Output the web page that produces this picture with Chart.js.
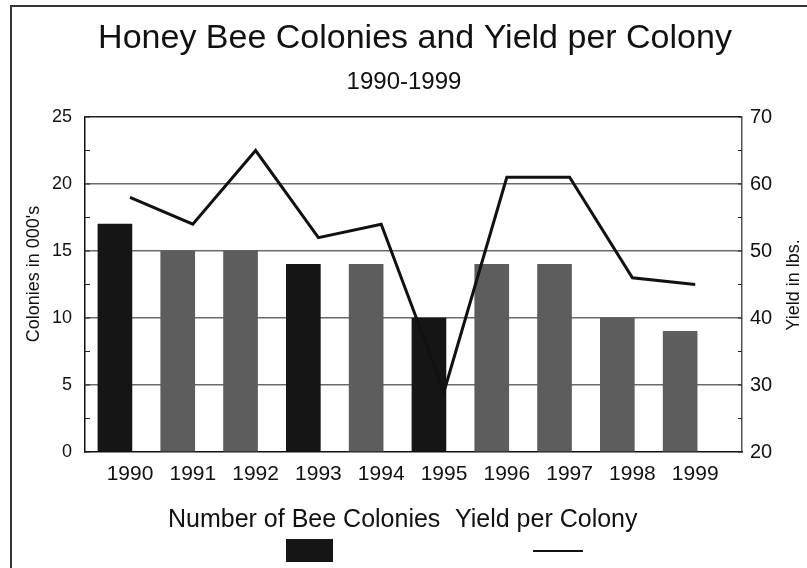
<!DOCTYPE html>
<html>
<head>
<meta charset="utf-8">
<script src="https://cdn.jsdelivr.net/npm/chart.js@4.4.1/dist/chart.umd.min.js"></script>
<style>
  html, body { margin: 0; padding: 0; background: #fff; }
  #wrap { width: 807px; height: 568px; }
</style>
</head>
<body>
<div id="wrap"><canvas id="beeChart" width="807" height="568"></canvas></div>
<script>
const years = ['1990', '1991', '1992', '1993', '1994', '1995', '1996', '1997', '1998', '1999'];
const colonies = [17, 15, 15, 14, 14, 10, 14, 14, 10, 9];
const yieldLbs = [58, 54, 65, 52, 54, 29, 61, 61, 46, 45];
const barShades = ['#151515', '#5d5d5d', '#5d5d5d', '#151515', '#5d5d5d', '#151515', '#5d5d5d', '#5d5d5d', '#5d5d5d', '#5d5d5d'];
const leftTicks = [0, 5, 10, 15, 20, 25];
const rightTicks = [20, 30, 40, 50, 60, 70];

const FONT = '"Liberation Sans", Arial, Helvetica, sans-serif';
const barShift = -0.24;

// titles, axis titles, legend and the page frame
const decorations = {
    id: 'decorations',
    afterDraw(chart) {
        const ctx = chart.ctx;
        const area = chart.chartArea;
        ctx.save();

        // frame of the scanned page
        ctx.strokeStyle = '#333';
        ctx.lineWidth = 2;
        ctx.beginPath();
        ctx.moveTo(11, 568);
        ctx.lineTo(11, 6);
        ctx.lineTo(807, 6);
        ctx.stroke();

        ctx.fillStyle = '#111';
        ctx.textAlign = 'center';
        ctx.textBaseline = 'alphabetic';
        ctx.font = '34px ' + FONT;
        ctx.fillText('Honey Bee Colonies and Yield per Colony', 415, 48);
        ctx.font = '24px ' + FONT;
        ctx.fillText('1990-1999', 404, 89);

        // axis titles, both reading bottom to top
        ctx.textBaseline = 'middle';
        ctx.font = '18px ' + FONT;
        ctx.save();
        ctx.translate(34, 274);
        ctx.rotate(-Math.PI / 2);
        ctx.fillText("Colonies in 000's", 0, 0);
        ctx.restore();
        ctx.save();
        ctx.translate(794, 285);
        ctx.rotate(-Math.PI / 2);
        ctx.fillText('Yield in lbs.', 0, 0);
        ctx.restore();

        // legend: label on top, swatch under it
        const ds = chart.data.datasets;
        ctx.font = '25px ' + FONT;
        ctx.textAlign = 'left';
        ctx.textBaseline = 'alphabetic';
        ctx.fillText(ds[0].label, 168, 527);
        ctx.fillText(ds[1].label, 455, 527);
        ctx.fillStyle = '#151515';
        ctx.fillRect(286, 539, 47, 23);
        ctx.strokeStyle = ds[1].borderColor;
        ctx.lineWidth = 2;
        ctx.beginPath();
        ctx.moveTo(533, 551);
        ctx.lineTo(583, 551);
        ctx.stroke();

        // small inward tick marks
        const yL = chart.scales.y, yR = chart.scales.y1;
        ctx.strokeStyle = '#222';
        ctx.lineWidth = 1.2;
        ctx.beginPath();
        for (let v = 0; v <= 25; v += 2.5) {
            const py = yL.getPixelForValue(v);
            ctx.moveTo(area.left, py);
            ctx.lineTo(area.left + 5, py);
        }
        for (let v = 20; v <= 70; v += 5) {
            const py = yR.getPixelForValue(v);
            ctx.moveTo(area.right, py);
            ctx.lineTo(area.right - 4, py);
        }
        ctx.stroke();
        ctx.restore();
    }
};

const ctx = document.getElementById('beeChart').getContext('2d');
new Chart(ctx, {
    data: {
        datasets: [{
            type: 'bar',
            label: 'Number of Bee Colonies',
            data: colonies.map((v, i) => ({ x: i + barShift, y: v })),
            backgroundColor: barShades,
            barThickness: 34,
            yAxisID: 'y',
            order: 1
        }, {
            type: 'line',
            label: 'Yield per Colony',
            data: yieldLbs.map((v, i) => ({ x: i, y: v })),
            borderColor: '#111',
            borderWidth: 3,
            pointRadius: 0,
            tension: 0,
            fill: false,
            yAxisID: 'y1',
            order: 0
        }]
    },
    options: {
        responsive: false,
        animation: false,
        layout: { padding: { top: 117, bottom: 76, left: 0, right: 0 } },
        plugins: {
            legend: { display: false },
            title: { display: false },
            tooltip: { enabled: false }
        },
        scales: {
            x: {
                type: 'linear',
                offset: false,
                min: -0.7166,
                max: 9.745,
                afterBuildTicks: (scale) => { scale.ticks = years.map((_, i) => ({ value: i })); },
                afterFit: (scale) => { scale.height = 40; },
                grid: { display: false, drawTicks: false },
                border: { display: true, color: '#111', width: 1.5 },
                ticks: {
                    color: '#111',
                    font: { family: FONT, size: 21 },
                    padding: 10,
                    autoSkip: false,
                    maxRotation: 0,
                    callback: (v) => years[v]
                }
            },
            y: {
                position: 'left',
                min: 0,
                max: 25,
                afterBuildTicks: (scale) => { scale.ticks = leftTicks.map(v => ({ value: v })); },
                afterFit: (scale) => { scale.width = 85; },
                grid: {
                    drawTicks: false,
                    color: (c) => (c.tick.value === 25 ? '#222' : (c.tick.value === 0 ? 'rgba(0,0,0,0)' : '#6a6a6a')),
                    lineWidth: 1.5
                },
                border: { display: true, color: '#111', width: 1.5 },
                ticks: { color: '#111', font: { family: FONT, size: 18 }, padding: 13 }
            },
            y1: {
                position: 'right',
                min: 20,
                max: 70,
                afterBuildTicks: (scale) => { scale.ticks = rightTicks.map(v => ({ value: v })); },
                afterFit: (scale) => { scale.width = 65; },
                grid: { drawOnChartArea: false, drawTicks: false },
                border: { display: true, color: '#555', width: 1.5 },
                ticks: { color: '#111', font: { family: FONT, size: 20 }, padding: 8 }
            }
        }
    },
    plugins: [decorations]
});
</script>
</body>
</html>
